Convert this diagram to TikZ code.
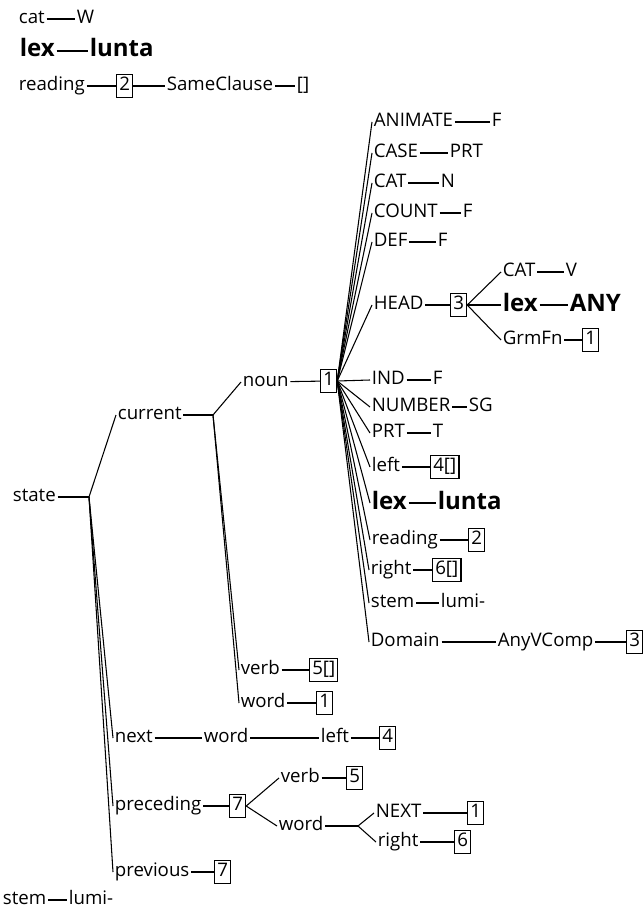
\documentclass[tikz,border=0pt]{standalone}
\usepackage{fontspec}
\setmainfont{Open Sans}
\begin{document}
\begin{tikzpicture}[x=0.75pt,y=-0.75pt, line width=0.8pt,
  lbl/.style={anchor=west,inner sep=1pt,font=\fontsize{14}{16}\selectfont,text height=10pt,text depth=3pt},
  big/.style={anchor=west,inner sep=1pt,font=\fontsize{18}{20}\selectfont\bfseries,text height=13pt,text depth=4pt},
  bx/.style={lbl,draw,inner sep=2pt,line width=0.9pt}]
\useasboundingbox (0,0) rectangle (643,909);

% top lines
\node[lbl] (cat0) at (17,19) {cat};
\node[lbl] (w0) at (75,19) {W};
\draw (cat0) -- (w0);
\node[big] (lex0) at (18,51) {lex};
\node[big] (lunta0) at (88,51) {lunta};
\draw (lex0) -- (lunta0);
\node[lbl] (read0) at (17,86) {reading};
\node[bx] (r0b) at (116,86) {2};
\node[lbl] (same) at (165,86) {SameClause};
\node[lbl] (emp) at (295,86) {[]};
\draw (read0) -- (r0b);
\draw (r0b) -- (same);
\draw (same) -- (emp);

% state
\node[lbl] (state) at (11,497) {state};
\coordinate (sv) at (89,497);
\draw (state.east) -- (sv);
\node[lbl] (current) at (116,415) {current};
\coordinate (cv) at (213,415);
\draw (sv) -- (current.west);
\draw (current.east) -- (cv);
\node[lbl] (noun) at (241,382) {noun};
\node[bx] (b1) at (320,381) {1};
\draw (cv) -- (noun.west);
\draw (noun) -- (b1);

% fan from b1
\node[lbl] (animate) at (372,122) {ANIMATE};
\node[lbl] (animatev) at (490,122) {F};
\node[lbl] (case) at (372,153) {CASE};
\node[lbl] (casev) at (448,153) {PRT};
\node[lbl] (cat1) at (372,183) {CAT};
\node[lbl] (cat1v) at (439,183) {N};
\node[lbl] (count) at (372,213) {COUNT};
\node[lbl] (countv) at (461,213) {F};
\node[lbl] (def) at (372,242) {DEF};
\node[lbl] (defv) at (436,242) {F};
\node[lbl] (head) at (372,305) {HEAD};
\node[bx] (h3) at (450,305) {3};
\node[lbl] (ind) at (370,380) {IND};
\node[lbl] (indv) at (431,380) {F};
\node[lbl] (number) at (370,407) {NUMBER};
\node[lbl] (numberv) at (467,407) {SG};
\node[lbl] (prt) at (370,433) {PRT};
\node[lbl] (prtv) at (431,433) {T};
\node[lbl] (left1) at (370,467) {left};
\node[bx] (left1v) at (430,467) {4[]};
\node[big] (lex1) at (370,503) {lex};
\node[big] (lex1v) at (436,503) {lunta};
\node[lbl] (read1) at (370,540) {reading};
\node[bx] (read1v) at (468,540) {2};
\node[lbl] (right1) at (369,570) {right};
\node[bx] (right1v) at (432,570) {6[]};
\node[lbl] (stem1) at (369,603) {stem};
\node[lbl] (stem1v) at (439,603) {lumi-};
\node[lbl] (domain) at (369,642) {Domain};
\node[lbl] (anyv) at (496,642) {AnyVComp};
\node[bx] (anyvb) at (626,642) {3};

\foreach \n in {animate,case,cat1,count,def,head,ind,number,prt,left1,lex1,read1,right1,stem1,domain}
  \draw (b1.east) -- (\n.west);
\draw (animate) -- (animatev);
\draw (case) -- (casev);
\draw (cat1) -- (cat1v);
\draw (count) -- (countv);
\draw (def) -- (defv);
\draw (head) -- (h3);
\draw (ind) -- (indv);
\draw (number) -- (numberv);
\draw (prt) -- (prtv);
\draw (left1) -- (left1v);
\draw (lex1) -- (lex1v);
\draw (read1) -- (read1v);
\draw (right1) -- (right1v);
\draw (stem1) -- (stem1v);
\draw (domain) -- (anyv);
\draw (anyv) -- (anyvb);

% HEAD sub
\node[lbl] (cat2) at (501,272) {CAT};
\node[lbl] (cat2v) at (564,272) {V};
\node[big] (lex2) at (501,305) {lex};
\node[big] (lex2v) at (568,305) {ANY};
\node[lbl] (grm) at (501,340) {GrmFn};
\node[bx] (grmv) at (582,340) {1};
\draw (h3.east) -- (cat2.west);
\draw (h3.east) -- (lex2.west);
\draw (h3.east) -- (grm.west);
\draw (cat2) -- (cat2v);
\draw (lex2) -- (lex2v);
\draw (grm) -- (grmv);

% current children
\node[lbl] (verb1) at (239,670) {verb};
\node[bx] (verb1v) at (309,670) {5[]};
\node[lbl] (word1) at (239,703) {word};
\node[bx] (word1v) at (316,703) {1};
\draw (cv) -- (verb1.west);
\draw (cv) -- (word1.west);
\draw (verb1) -- (verb1v);
\draw (word1) -- (word1v);

% state children
\node[lbl] (next) at (113,738) {next};
\node[lbl] (word2) at (202,738) {word};
\node[lbl] (left2) at (319,738) {left};
\node[bx] (left2v) at (379,738) {4};
\draw (sv) -- (next.west);
\draw (next) -- (word2);
\draw (word2) -- (left2);
\draw (left2) -- (left2v);

\node[lbl] (prec) at (113,806) {preceding};
\node[bx] (b7) at (229,806) {7};
\draw (sv) -- (prec.west);
\draw (prec) -- (b7);
\node[lbl] (verb2) at (279,778) {verb};
\node[bx] (verb2v) at (346,778) {5};
\node[lbl] (word3) at (277,826) {word};
\coordinate (wv) at (358,826);
\draw (b7.east) -- (verb2.west);
\draw (b7.east) -- (word3.west);
\draw (verb2) -- (verb2v);
\draw (word3.east) -- (wv);
\node[lbl] (nextb) at (374,813) {NEXT};
\node[bx] (nextbv) at (467,813) {1};
\node[lbl] (right2) at (376,842) {right};
\node[bx] (right2v) at (454,842) {6};
\draw (wv) -- (nextb.west);
\draw (wv) -- (right2.west);
\draw (nextb) -- (nextbv);
\draw (right2) -- (right2v);

\node[lbl] (prev) at (113,872) {previous};
\node[bx] (prevv) at (214,872) {7};
\draw (sv) -- (prev.west);
\draw (prev) -- (prevv);

\node[lbl] (stem0) at (1,900) {stem};
\node[lbl] (stem0v) at (67,900) {lumi-};
\draw (stem0) -- (stem0v);
\end{tikzpicture}
\end{document}
